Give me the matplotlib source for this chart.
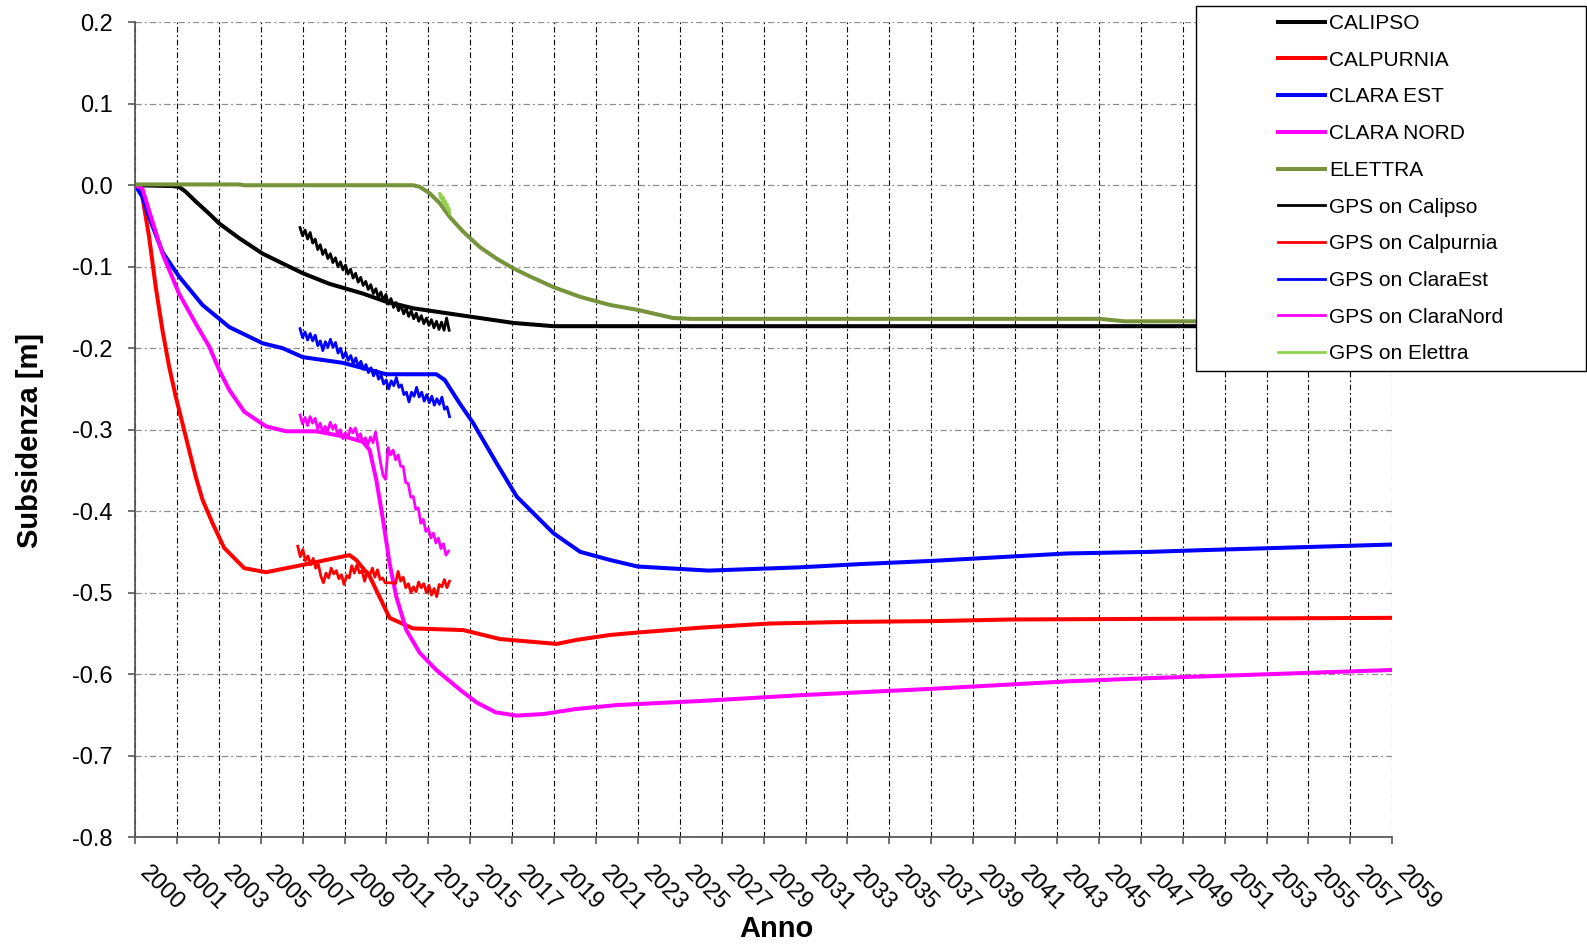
import numpy as np
import matplotlib
matplotlib.use("Agg")
import matplotlib.pyplot as plt
from matplotlib.patches import Rectangle

plt.rcParams['font.family'] = ['Liberation Sans', 'DejaVu Sans']

# model curves (year, subsidence m)
calipso_t = [2000.0, 2001.78, 2002.10, 2002.42, 2002.90, 2003.54, 2004.02, 2004.97, 2006.09, 2007.04,
             2008.00, 2009.27, 2010.87, 2011.98, 2013.26, 2014.85, 2016.45, 2018.04, 2019.95, 2059.96]
calipso_v = [0.0, -0.001, -0.002, -0.008, -0.020, -0.035, -0.047, -0.065, -0.084, -0.096,
             -0.108, -0.121, -0.133, -0.143, -0.151, -0.157, -0.163, -0.169, -0.173, -0.173]

calpurnia_t = [2000.0, 2000.19, 2000.35, 2000.67, 2000.99, 2001.31, 2001.63, 2001.94, 2002.26, 2002.58,
               2002.90, 2003.22, 2003.70, 2004.25, 2005.21, 2006.25, 2008.00, 2010.23, 2010.55, 2011.19,
               2012.14, 2013.26, 2015.65, 2016.29, 2017.40, 2020.11, 2021.07, 2022.66, 2023.97, 2027.0,
               2030.24, 2034.0, 2038.1, 2041.8, 2050.8, 2059.96]
calpurnia_v = [0.0, -0.006, -0.014, -0.063, -0.125, -0.178, -0.223, -0.259, -0.292, -0.325,
               -0.358, -0.386, -0.415, -0.445, -0.470, -0.475, -0.466, -0.454, -0.460, -0.480,
               -0.531, -0.544, -0.546, -0.550, -0.557, -0.563, -0.558, -0.552, -0.549, -0.543,
               -0.538, -0.536, -0.535, -0.533, -0.532, -0.531]

clara_est_t = [2000.0, 2000.35, 2000.67, 2001.31, 2001.78, 2002.10, 2003.22, 2004.49, 2006.09, 2007.04,
               2008.00, 2009.91, 2011.98, 2014.37, 2014.77, 2015.49, 2016.13, 2017.24, 2018.20, 2019.95,
               2021.23, 2022.66, 2023.97, 2027.35, 2031.7, 2034.6, 2038.07, 2044.43, 2048.4, 2050.79,
               2059.96]
clara_est_v = [0.0, -0.014, -0.039, -0.082, -0.100, -0.112, -0.147, -0.174, -0.194, -0.200,
               -0.211, -0.218, -0.232, -0.232, -0.239, -0.268, -0.292, -0.341, -0.382, -0.427,
               -0.450, -0.460, -0.468, -0.473, -0.469, -0.465, -0.461, -0.452, -0.450, -0.448,
               -0.441]

clara_nord_t = [2000.0, 2000.35, 2000.67, 2001.31, 2002.10, 2002.90, 2003.54, 2004.02, 2004.49, 2005.21,
                2006.25, 2007.20, 2008.64, 2010.07, 2010.87, 2011.19, 2011.51, 2011.83, 2012.14, 2012.46,
                2012.94, 2013.58, 2014.37, 2015.49, 2016.3, 2017.2, 2018.2, 2019.5, 2021.0, 2023.0,
                2027.0, 2031.7, 2038.07, 2044.43, 2048.4, 2050.79, 2059.96]
clara_nord_v = [0.0, -0.004, -0.031, -0.084, -0.133, -0.170, -0.198, -0.227, -0.251, -0.278,
                -0.296, -0.302, -0.302, -0.309, -0.315, -0.325, -0.362, -0.411, -0.464, -0.505,
                -0.546, -0.574, -0.595, -0.619, -0.635, -0.647, -0.651, -0.649, -0.643, -0.638,
                -0.633, -0.626, -0.618, -0.609, -0.605, -0.603, -0.595]

elettra_t = [2000.0, 2004.97, 2005.21, 2013.26, 2013.58, 2014.06, 2014.53, 2015.01, 2015.65, 2016.45,
             2017.24, 2018.04, 2018.84, 2019.95, 2021.23, 2022.66, 2023.97, 2025.66, 2026.5, 2046.0,
             2047.2, 2059.96]
elettra_v = [0.001, 0.001, 0.0, 0.0, -0.002, -0.010, -0.022, -0.039, -0.057, -0.076,
             -0.090, -0.102, -0.112, -0.125, -0.137, -0.147, -0.153, -0.163, -0.164, -0.164,
             -0.167, -0.167]

# GPS measurements (evenly sampled between start and end year)
gps_calipso_span = (2007.87, 2014.98)
gps_calipso = [-0.052, -0.062, -0.055, -0.066, -0.058, -0.071, -0.066, -0.079, -0.073, -0.085,
               -0.079, -0.090, -0.084, -0.095, -0.089, -0.100, -0.094, -0.104, -0.098, -0.109,
               -0.103, -0.114, -0.108, -0.119, -0.113, -0.123, -0.118, -0.128, -0.122, -0.133,
               -0.127, -0.138, -0.131, -0.142, -0.134, -0.146, -0.139, -0.150, -0.144, -0.154,
               -0.147, -0.158, -0.151, -0.161, -0.154, -0.164, -0.157, -0.167, -0.160, -0.170,
               -0.163, -0.172, -0.165, -0.175, -0.167, -0.177, -0.168, -0.178, -0.163, -0.178]

gps_calpurnia_span = (2007.76, 2015.0)
gps_calpurnia = [-0.443, -0.456, -0.447, -0.461, -0.455, -0.466, -0.458, -0.470, -0.465, -0.480,
                 -0.488, -0.476, -0.482, -0.470, -0.477, -0.473, -0.483, -0.478, -0.490, -0.479,
                 -0.482, -0.467, -0.476, -0.466, -0.476, -0.473, -0.486, -0.474, -0.479, -0.470,
                 -0.481, -0.472, -0.484, -0.482, -0.488, -0.488, -0.488, -0.488, -0.489, -0.474,
                 -0.486, -0.481, -0.494, -0.489, -0.500, -0.493, -0.499, -0.487, -0.494, -0.489,
                 -0.500, -0.491, -0.503, -0.495, -0.505, -0.490, -0.493, -0.484, -0.494, -0.486]

gps_clara_est_span = (2007.87, 2015.0)
gps_clara_est = [-0.176, -0.187, -0.180, -0.190, -0.182, -0.191, -0.184, -0.197, -0.191, -0.203,
                 -0.192, -0.199, -0.189, -0.199, -0.193, -0.206, -0.200, -0.212, -0.205, -0.215,
                 -0.209, -0.219, -0.212, -0.223, -0.216, -0.226, -0.220, -0.230, -0.224, -0.234,
                 -0.227, -0.238, -0.233, -0.244, -0.239, -0.250, -0.240, -0.246, -0.236, -0.248,
                 -0.245, -0.257, -0.254, -0.266, -0.254, -0.259, -0.248, -0.260, -0.254, -0.265,
                 -0.257, -0.267, -0.259, -0.270, -0.262, -0.269, -0.260, -0.275, -0.272, -0.284]

gps_clara_nord_span = (2007.87, 2014.95)
gps_clara_nord = [-0.282, -0.293, -0.285, -0.295, -0.284, -0.292, -0.286, -0.299, -0.292, -0.303,
                  -0.296, -0.302, -0.291, -0.299, -0.294, -0.307, -0.300, -0.311, -0.304, -0.310,
                  -0.298, -0.304, -0.298, -0.310, -0.305, -0.316, -0.310, -0.318, -0.309, -0.316,
                  -0.303, -0.322, -0.341, -0.356, -0.361, -0.322, -0.331, -0.325, -0.337, -0.331,
                  -0.345, -0.345, -0.365, -0.366, -0.383, -0.382, -0.398, -0.396, -0.415, -0.410,
                  -0.425, -0.421, -0.433, -0.427, -0.439, -0.433, -0.446, -0.440, -0.454, -0.449]

gps_elettra_span = (2014.53, 2015.02)
gps_elettra = [-0.010, -0.016, -0.012, -0.020, -0.015, -0.024, -0.019, -0.027, -0.023, -0.031,
               -0.028, -0.035]

# x axis: Excel date axis, major unit 730 days starting 1 Jan 2000
tick_labels = ['2000', '2001', '2003', '2005', '2007', '2009', '2011', '2013', '2015', '2017',
               '2019', '2021', '2023', '2025', '2027', '2029', '2031', '2033', '2035', '2037',
               '2039', '2041', '2043', '2045', '2047', '2049', '2051', '2053', '2055', '2057',
               '2059']
y_ticks = [-0.8, -0.7, -0.6, -0.5, -0.4, -0.3, -0.2, -0.1, 0.0, 0.1, 0.2]
y_labels = ['-0.8', '-0.7', '-0.6', '-0.5', '-0.4', '-0.3', '-0.2', '-0.1', '0.0', '0.1', '0.2']

tick_pos = 2000 + np.arange(len(tick_labels)) * 730 / 365.25

fig = plt.figure(figsize=(15.87, 9.44), dpi=100)
ax = fig.add_axes([135 / 1587, 1 - 837 / 944, 1257.3 / 1587, 814.7 / 944])

model_lw = 2.9
gps_lw = 2.0
ax.plot(calipso_t, calipso_v, color='black', lw=model_lw, label='CALIPSO')
ax.plot(calpurnia_t, calpurnia_v, color='#FF0000', lw=model_lw, label='CALPURNIA')
ax.plot(clara_est_t, clara_est_v, color='#0000FF', lw=model_lw, label='CLARA EST')
ax.plot(clara_nord_t, clara_nord_v, color='#FF00FF', lw=model_lw, label='CLARA NORD')
ax.plot(elettra_t, elettra_v, color='#77933C', lw=model_lw, label='ELETTRA')


def gps_line(span, vals, color, label):
    t = np.linspace(span[0], span[1], len(vals))
    ax.plot(t, vals, color=color, lw=gps_lw, label=label)


gps_line(gps_calipso_span, gps_calipso, 'black', 'GPS on Calipso')
gps_line(gps_calpurnia_span, gps_calpurnia, '#FF0000', 'GPS on Calpurnia')
gps_line(gps_clara_est_span, gps_clara_est, '#0000FF', 'GPS on ClaraEst')
gps_line(gps_clara_nord_span, gps_clara_nord, '#FF00FF', 'GPS on ClaraNord')
gps_line(gps_elettra_span, gps_elettra, '#92D050', 'GPS on Elettra')

ax.set_xlim(tick_pos[0], tick_pos[-1])
ax.set_ylim(-0.8, 0.2)
ax.set_xticks(tick_pos)
ax.set_xticklabels(tick_labels, rotation=-45, ha='left', va='top')
ax.set_yticks(y_ticks)
ax.set_yticklabels(y_labels)

dashdot = (0, (5, 2.5, 1.5, 2.5))
ax.set_axisbelow(True)
ax.xaxis.grid(True, color='black', lw=0.8, linestyle=dashdot)
ax.yaxis.grid(True, color='#8c8c8c', lw=0.9, linestyle=dashdot)

for s in ['top', 'right']:
    ax.spines[s].set_visible(False)
for s in ['left', 'bottom']:
    ax.spines[s].set_color('#595959')
    ax.spines[s].set_linewidth(1.3)
ax.tick_params(axis='x', length=5, width=1.2, color='#595959', pad=13, labelsize=17)
ax.tick_params(axis='y', length=5, width=1.2, color='#595959', pad=11, labelsize=17)

fig.text(30.4 / 1587, 1 - 440 / 944, 'Subsidenza [m]', rotation=90, ha='center', va='center',
         fontsize=21, fontweight='bold')
fig.text(776 / 1587, 1 - 929 / 944, 'Anno', ha='center', va='center',
         fontsize=21, fontweight='bold')

# legend box sits over the top right corner of the plot
box = Rectangle((1196 / 1587, 1 - 371 / 944), 390 / 1587, 365 / 944, transform=fig.transFigure,
                facecolor='white', edgecolor='black', lw=1.0, zorder=3)
fig.add_artist(box)
handles, labels = ax.get_legend_handles_labels()
leg = fig.legend(handles, labels, loc='upper left', bbox_to_anchor=(1278 / 1587, 1 - 14 / 944),
                 frameon=False, borderpad=0, borderaxespad=0, fontsize=15, handlelength=2.25,
                 handletextpad=0.2, labelspacing=0.85)
leg.set_zorder(5)

fig.savefig('out.png', dpi=100)
